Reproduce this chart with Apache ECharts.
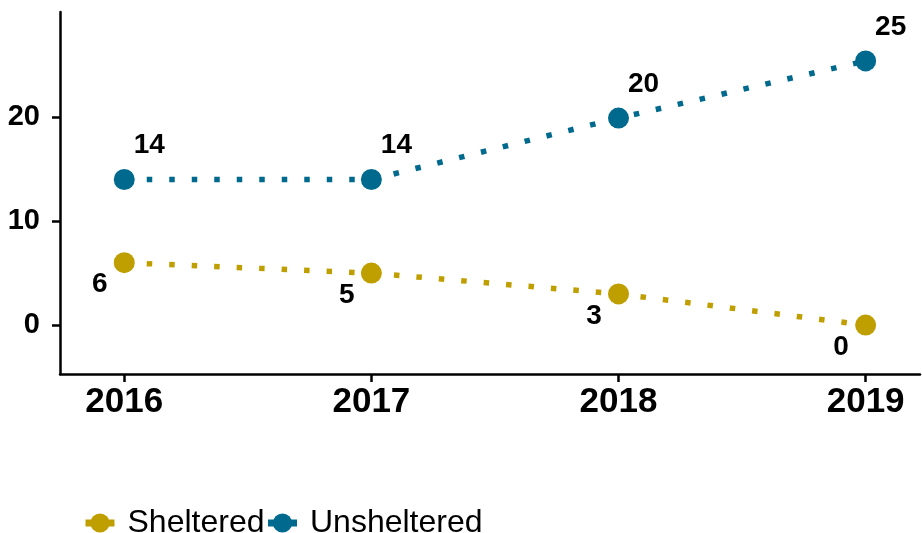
<!DOCTYPE html>
<html><head><meta charset="utf-8">
<script src="https://cdn.jsdelivr.net/npm/echarts@6/dist/echarts.min.js"></script>
<style>html,body{margin:0;padding:0;background:#fff}#c{width:922px;height:533px}</style>
</head><body><div id="c"></div>
<script>
const years = [2016, 2017, 2018, 2019];
const sheltered = [6, 5, 3, 0];
const unsheltered = [14, 14, 19.9, 25.4];
const yTicks = [0, 10, 20];
const seriesNames = ['Sheltered', 'Unsheltered'];
const colors = ['#BF9F00', '#006A8E'];

const chart = echarts.init(document.getElementById('c'));
const font = 'Liberation Sans, Arial, sans-serif';
function mk(name, vals, color, off) {
  return {
    name: name, type: 'line', data: vals.map((v, i) => [years[i], v]),
    symbol: 'circle', symbolSize: 21, color: color,
    itemStyle: {color: color},
    lineStyle: {color: color, width: 5.5, type: [5.5, 17], cap: 'butt'},
    label: {show: true, position: 'inside', offset: off, formatter: p => String(Math.round(p.value[1])),
      fontFamily: font, fontWeight: 'bold', fontSize: 28, color: '#000'},
    emphasis: {disabled: true}, z: 3
  };
}
chart.setOption({
  animation: false,
  grid: {left: 60, right: 2, top: 12, bottom: 159, containLabel: false},
  xAxis: {type: 'value', min: 2015.74, max: 2019.22,
    axisLine: {show: true, onZero: false, lineStyle: {color: '#000', width: 2.5}},
    axisTick: {show: true, customValues: years, length: 8, lineStyle: {color: '#000', width: 2.5}},
    axisLabel: {customValues: years, formatter: v => String(v), fontFamily: font, fontWeight: 'bold', fontSize: 35, color: '#000', margin: 11},
    splitLine: {show: false}},
  yAxis: {type: 'value', min: -4.7, max: 30.1,
    axisLine: {show: true, onZero: false, lineStyle: {color: '#000', width: 2.5}},
    axisTick: {show: true, customValues: yTicks, length: 8, lineStyle: {color: '#000', width: 2.5}},
    axisLabel: {customValues: yTicks, fontFamily: font, fontWeight: 'bold', fontSize: 29, color: '#000', margin: 20},
    splitLine: {show: false}},
  legend: {left: 82, top: 507, padding: 0, itemWidth: 29, itemHeight: 24, itemGap: 0,
    lineStyle: {type: 'solid', width: 7},
    textStyle: {fontFamily: font, fontSize: 32, color: '#000', padding: [0, 0, 0, 8]},
    data: seriesNames},
  series: [
    mk(seriesNames[0], sheltered, colors[0], [-24.5, 22]),
    mk(seriesNames[1], unsheltered, colors[1], [25, -34])
  ]
});
</script></body></html>
